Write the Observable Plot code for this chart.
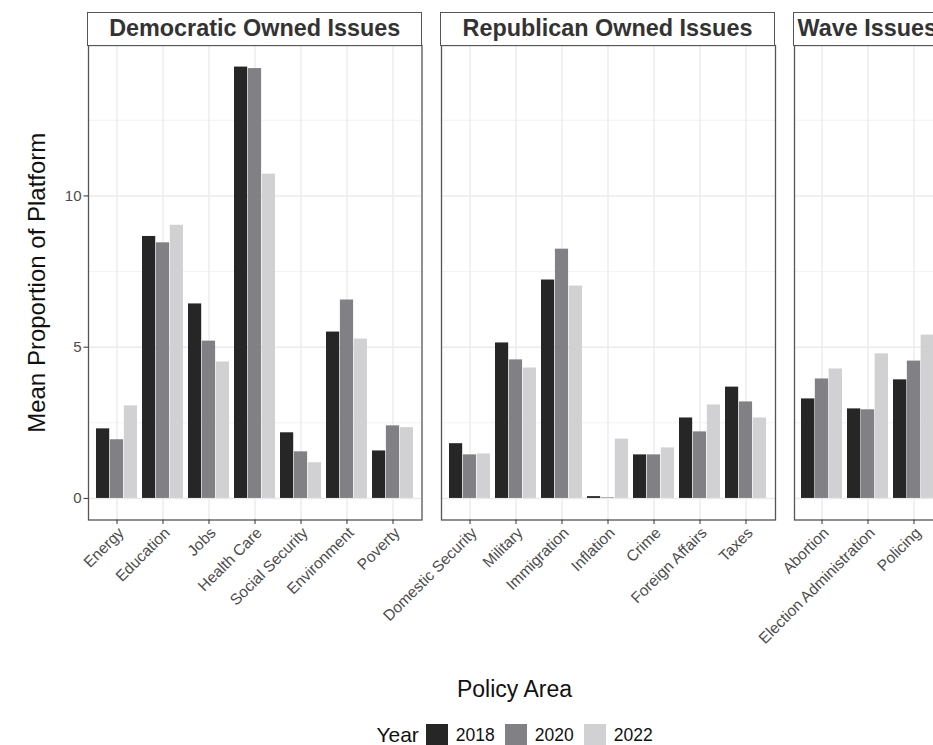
<!DOCTYPE html>
<html><head><meta charset="utf-8">
<script src="https://cdn.jsdelivr.net/npm/d3@7"></script>
<script src="https://cdn.jsdelivr.net/npm/@observablehq/plot@0.6"></script>
<style>
body{margin:0;background:#fff;}
#wrap{position:relative;width:933px;height:745px;overflow:hidden;background:#fff;font-family:"Liberation Sans",Arial,Helvetica,sans-serif;}
.strip{position:absolute;top:11.6px;height:34px;box-sizing:border-box;border:1.3px solid #555;display:flex;align-items:center;justify-content:center;font-weight:bold;font-size:23.4px;color:#333;white-space:nowrap;overflow:hidden;background:#fff;}
.panel{position:absolute;top:0;}
.panel svg{overflow:visible;max-width:none;background:transparent;}
#xtitle{position:absolute;left:0;width:1029px;top:676px;text-align:center;font-size:23px;color:#111;}
#legend{position:absolute;left:0;width:1029px;top:723px;display:flex;justify-content:center;align-items:center;color:#111;}
#legend .t{font-size:21px;margin-right:7px;}
#legend .sw{width:22px;height:22px;margin-right:8px;}
#legend .l{font-size:17.5px;margin-right:10px;}
#legend .l:last-child{margin-right:0;}
</style></head>
<body>
<div id="wrap"></div>
<script>
// ---- data ----
const years = ["2018", "2020", "2022"];
const yearColors = ["#262626", "#818185", "#d1d1d3"];

const demCategories = ["Energy", "Education", "Jobs", "Health Care", "Social Security", "Environment", "Poverty"];
const dem2018 = [2.30, 8.66, 6.43, 14.26, 2.17, 5.50, 1.57];
const dem2020 = [1.94, 8.45, 5.20, 14.21, 1.54, 6.56, 2.40];
const dem2022 = [3.06, 9.03, 4.51, 10.72, 1.18, 5.27, 2.34];

const repCategories = ["Domestic Security", "Military", "Immigration", "Inflation", "Crime", "Foreign Affairs", "Taxes"];
const rep2018 = [1.81, 5.14, 7.22, 0.06, 1.44, 2.66, 3.68];
const rep2020 = [1.44, 4.58, 8.24, 0.02, 1.44, 2.20, 3.19];
const rep2022 = [1.47, 4.31, 7.02, 1.96, 1.67, 3.09, 2.66];

const waveCategories = ["Abortion", "Election Administration", "Policing"];
const wave2018 = [3.29, 2.96, 3.92];
const wave2020 = [3.95, 2.93, 4.54];
const wave2022 = [4.28, 4.78, 5.40];

const panelTitles = ["Democratic Owned Issues", "Republican Owned Issues", "Wave Issues"];
const yMajorTicks = [0, 5, 10];
const yMinorTicks = [2.5, 7.5, 12.5];
const yTitle = "Mean Proportion of Platform";
const xTitle = "Policy Area";
const legendTitle = "Year";

// ---- build ----
const allValues = [...dem2018, ...dem2020, ...dem2022, ...rep2018, ...rep2020, ...rep2022, ...wave2018, ...wave2020, ...wave2022];
const yMax = d3.max(allValues);
const yDomain = [-0.05 * yMax, 1.05 * yMax];

const panels = [
  {title: panelTitles[0], cats: demCategories, series: [dem2018, dem2020, dem2022], left: 0, ml: 88, pw: 333.5, showY: true},
  {title: panelTitles[1], cats: repCategories, series: [rep2018, rep2020, rep2022], left: 340.5, ml: 100, pw: 334, showY: false},
  {title: panelTitles[2], cats: waveCategories, series: [wave2018, wave2020, wave2022], left: 693.5, ml: 100, pw: 147.5, showY: false}
];

const wrap = document.getElementById("wrap");
const H = 660, MT = 45, PB = 519.5;
const font = '"Liberation Sans", Arial, Helvetica, sans-serif';

for (const p of panels) {
  const mr = 10;
  const xOpts = {type: "band", domain: p.cats, paddingInner: 0.1, paddingOuter: 0.15, align: 0.5};
  const bw = Plot.scale({x: {...xOpts, range: [p.ml, p.ml + p.pw]}}).bandwidth;
  const third = bw / years.length;
  const marks = [
    Plot.ruleY(yMinorTicks, {y: d => d, stroke: "#efefef", strokeWidth: 0.8}),
    Plot.gridY(yMajorTicks, {stroke: "#ebebeb", strokeOpacity: 1, strokeWidth: 1.4}),
    Plot.gridX({stroke: "#ebebeb", strokeOpacity: 1, strokeWidth: 1.4})
  ];
  years.forEach((yr, j) => {
    const rows = p.cats.map((c, i) => ({cat: c, year: yr, value: p.series[j][i]}));
    marks.push(Plot.barY(rows, {x: "cat", y: "value", fill: "year",
      insetLeft: j * third, insetRight: (years.length - 1 - j) * third}));
  });
  marks.push(
    Plot.frame({stroke: "#555", strokeWidth: 1.3}),
    Plot.axisX({anchor: "bottom", tickSize: 4.5, text: null, label: null, stroke: "#333"}),
    Plot.text(p.cats, {x: d => d, text: d => d, frameAnchor: "bottom", rotate: -45, textAnchor: "end", lineAnchor: "top", dy: 6, fontSize: 15.5, fill: "#4d4d4d"})
  );
  if (p.showY) {
    marks.push(Plot.axisY({ticks: yMajorTicks, tickSize: 4.5, tickPadding: 2.5, fontSize: 15, label: null, stroke: "#333", fill: "#4d4d4d"}));
    marks.push(Plot.text([yTitle], {text: d => d, frameAnchor: "left", textAnchor: "middle", dx: -51, rotate: -90, fontSize: 24, fill: "#111"}));
  }
  const chart = Plot.plot({
    width: p.ml + p.pw + mr,
    height: H,
    marginLeft: p.ml,
    marginRight: mr,
    marginTop: MT,
    marginBottom: H - PB,
    style: {fontFamily: font, background: "transparent", overflow: "visible"},
    x: {...xOpts, label: null},
    y: {domain: yDomain, axis: p.showY ? undefined : null, label: null},
    color: {domain: years, range: yearColors},
    marks
  });
  const div = document.createElement("div");
  div.className = "panel";
  div.style.left = p.left + "px";
  div.appendChild(chart);
  wrap.appendChild(div);

  const strip = document.createElement("div");
  strip.className = "strip";
  strip.style.left = (p.left + p.ml - 0.6) + "px";
  strip.style.width = (p.pw + 1.2) + "px";
  strip.textContent = p.title;
  wrap.appendChild(strip);
}

const xt = document.createElement("div");
xt.id = "xtitle";
xt.textContent = xTitle;
wrap.appendChild(xt);

const lg = document.createElement("div");
lg.id = "legend";
const lt = document.createElement("span");
lt.className = "t"; lt.textContent = legendTitle;
lg.appendChild(lt);
years.forEach((y, i) => {
  const sw = document.createElement("span");
  sw.className = "sw"; sw.style.background = yearColors[i];
  const l = document.createElement("span");
  l.className = "l"; l.textContent = y;
  lg.appendChild(sw); lg.appendChild(l);
});
wrap.appendChild(lg);
</script>
</body></html>
